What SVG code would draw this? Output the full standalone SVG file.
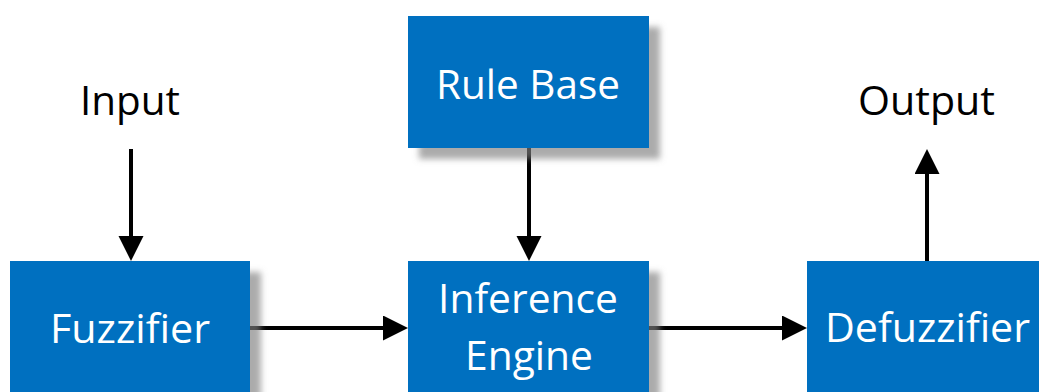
<svg xmlns="http://www.w3.org/2000/svg" width="1039" height="392" viewBox="0 0 1039 392">
  <style>
    .box { fill: #0070C0; filter: url(#shadow); }
    .lbl { font-family: "Open Sans", "Noto Sans", sans-serif; font-size: 41px; text-anchor: middle; }
    .in { fill: #ffffff; }
    .out { fill: #000000; }
    .conn { stroke: #000000; stroke-width: 4; fill: none; marker-end: url(#head); }
  </style>
  <defs>
    <filter id="shadow" x="-10%" y="-10%" width="130%" height="140%">
      <feDropShadow dx="11" dy="11" stdDeviation="3" flood-color="#7f7f7f" flood-opacity="0.65"/>
    </filter>
    <marker id="head" markerUnits="userSpaceOnUse" markerWidth="26" markerHeight="26" refX="0" refY="12.5" orient="auto">
      <path d="M0,0 L25,12.5 L0,25 z" fill="#000000"/>
    </marker>
  </defs>

  <rect width="1039" height="392" fill="#ffffff"/>

  <!-- free-standing labels -->
  <text class="lbl out" x="130" y="115" textLength="100" lengthAdjust="spacingAndGlyphs">Input</text>
  <text class="lbl out" x="926.5" y="115" textLength="137" lengthAdjust="spacingAndGlyphs">Output</text>

  <!-- connectors -->
  <g id="connectors">
    <line class="conn" x1="131" y1="149" x2="131" y2="236"/>
    <line class="conn" x1="529" y1="148" x2="529" y2="236"/>
    <line class="conn" x1="250" y1="328" x2="383" y2="328"/>
    <line class="conn" x1="649" y1="328" x2="782" y2="328"/>
    <line class="conn" x1="927" y1="261" x2="927" y2="174"/>
  </g>

  <g id="rule-base">
    <rect class="box" x="408" y="16" width="241" height="132"/>
    <text class="lbl in" x="528" y="99" textLength="184" lengthAdjust="spacingAndGlyphs">Rule Base</text>
  </g>

  <g id="fuzzifier">
    <rect class="box" x="10" y="261" width="240" height="140"/>
    <text class="lbl in" x="130" y="343" textLength="160" lengthAdjust="spacingAndGlyphs">Fuzzifier</text>
  </g>

  <g id="inference-engine">
    <rect class="box" x="408" y="261" width="241" height="140"/>
    <text class="lbl in" x="528" y="313" textLength="180" lengthAdjust="spacingAndGlyphs">Inference</text>
    <text class="lbl in" x="529" y="370" textLength="128" lengthAdjust="spacingAndGlyphs">Engine</text>
  </g>

  <g id="defuzzifier">
    <rect class="box" x="807" y="261" width="240" height="140"/>
    <text class="lbl in" x="927.5" y="342" textLength="205" lengthAdjust="spacingAndGlyphs">Defuzzifier</text>
  </g>
</svg>
